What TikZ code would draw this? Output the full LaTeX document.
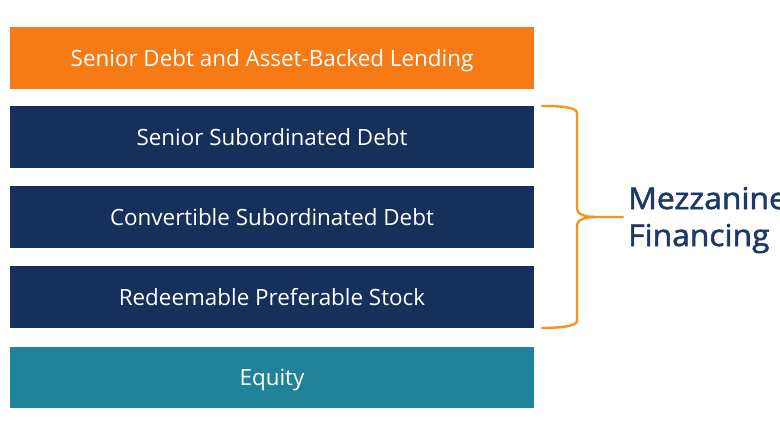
\documentclass[tikz,border=0pt]{standalone}
\usepackage{fontspec}
\setmainfont{Open Sans}
\newfontfamily\titlefont[FakeStretch=1.06]{Open Sans}
\newcommand{\heavier}[1]{\special{pdf: code q 2 Tr 0.55 w}#1\special{pdf: code 0 Tr Q}}
\definecolor{orangebar}{HTML}{F67B16}
\definecolor{bracecol}{HTML}{F7941D}
\definecolor{navybar}{HTML}{15305B}
\definecolor{tealbar}{HTML}{20829A}
\definecolor{titlecol}{HTML}{1D3A66}
\tikzset{
  bar/.style={minimum width=524pt,minimum height=61.5pt,inner sep=0pt,text=white,text height=21pt,text depth=5pt,font=\fontsize{22.4}{26}\selectfont},
  brace/.style={draw=bracecol,line width=2.4pt,line cap=round,line join=round},
  titletext/.style={anchor=base west,inner sep=0pt,text=titlecol,font=\fontsize{30}{37}\titlefont}
}
\begin{document}
\begin{tikzpicture}[x=1pt,y=-1pt]
\useasboundingbox (0,0) rectangle (780,440);
\fill[white] (0,0) rectangle (780,440);
\node[bar,fill=orangebar] (a) at (272,58) {Senior Debt and Asset-Backed Lending};
\node[bar,fill=navybar] (b) at (272,137) {Senior Subordinated Debt};
\node[bar,fill=navybar] (c) at (272,217) {Convertible Subordinated Debt};
\node[bar,fill=navybar] (d) at (272,297) {Redeemable Preferable Stock};
\node[bar,fill=tealbar] (e) at (272,377.5) {Equity};
\coordinate (t) at (542,106);
\coordinate (m) at (623,217);
\coordinate (bt) at (542,328);
\draw[brace] (t) .. controls (560,106) and (577,107) .. (577,113) -- (577,209) .. controls (577,214) and (585,217) .. (595,217) -- (m);
\draw[brace] (bt) .. controls (560,328) and (577,326) .. (577,321) -- (577,225) .. controls (577,220) and (585,217) .. (595,217);
\node[titletext] (l1) at (628,209) {\heavier{Mezzanine}};
\node[titletext] (l2) at (628,246) {\heavier{Financing}};
\end{tikzpicture}
\end{document}
